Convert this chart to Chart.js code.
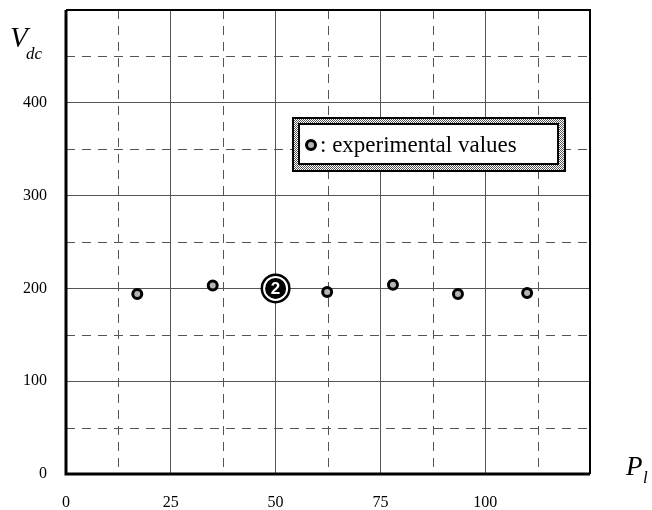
<!DOCTYPE html>
<html>
<head>
<meta charset="utf-8">
<script src="https://cdn.jsdelivr.net/npm/chart.js@4/dist/chart.umd.min.js"></script>
<style>
  html, body { margin: 0; padding: 0; background: #fff; }
  canvas { display: block; }
</style>
</head>
<body>
<canvas id="chart" width="652" height="510"></canvas>
<script>
// measured points (P_l, V_dc)
const plValues = [17, 35, 62.3, 78, 93.5, 110];
const vdcValues = [194, 203, 196, 204, 194, 195];

// numbered operating point
const markerX = [50];
const markerY = [200];
const markerText = ['2'];

const xTicks = [0, 25, 50, 75, 100];
const yTicks = [0, 100, 200, 300, 400];
const legendText = ': experimental values';

const SERIF = '"Liberation Serif", "DejaVu Serif", serif';

function drawPoint(ctx, x, y) {
    ctx.save();
    ctx.beginPath();
    ctx.arc(x, y, 4.5, 0, Math.PI * 2);
    ctx.fillStyle = '#b4b4b4';
    ctx.fill();
    ctx.lineWidth = 3;
    ctx.strokeStyle = '#000';
    ctx.stroke();
    ctx.restore();
}

// dashed half-step lines, taken from the scales
const minorGrid = {
    id: 'minorGrid',
    beforeDatasetsDraw(chart) {
        const {ctx, chartArea, scales} = chart;
        ctx.save();
        ctx.strokeStyle = '#555';
        ctx.lineWidth = 1;
        ctx.setLineDash([9, 7]);
        const xs = scales.x.ticks;
        for (let i = 0; i < xs.length - 1; i++) {
            const px = Math.round(scales.x.getPixelForValue((xs[i].value + xs[i + 1].value) / 2)) + 0.5;
            ctx.beginPath();
            ctx.moveTo(px, chartArea.top);
            ctx.lineTo(px, chartArea.bottom);
            ctx.stroke();
        }
        const ys = scales.y.ticks;
        for (let i = 0; i < ys.length - 1; i++) {
            const py = Math.round(scales.y.getPixelForValue((ys[i].value + ys[i + 1].value) / 2)) + 0.5;
            ctx.beginPath();
            ctx.moveTo(chartArea.left, py);
            ctx.lineTo(chartArea.right, py);
            ctx.stroke();
        }
        ctx.restore();
    }
};

const decorations = {
    id: 'decorations',
    afterDatasetsDraw(chart) {
        const {ctx, chartArea} = chart;

        // frame
        ctx.save();
        ctx.strokeStyle = '#000';
        ctx.lineWidth = 3;
        ctx.beginPath();
        ctx.moveTo(chartArea.left, chartArea.top);
        ctx.lineTo(chartArea.left, chartArea.bottom);
        ctx.lineTo(chartArea.right, chartArea.bottom);
        ctx.stroke();
        ctx.lineWidth = 2;
        ctx.beginPath();
        ctx.moveTo(chartArea.left, chartArea.top);
        ctx.lineTo(chartArea.right, chartArea.top);
        ctx.lineTo(chartArea.right, chartArea.bottom);
        ctx.stroke();
        ctx.restore();

        // numbered marker
        const meta = chart.getDatasetMeta(1);
        meta.data.forEach((pt, i) => {
            ctx.save();
            ctx.beginPath();
            ctx.arc(pt.x, pt.y, 11.5, 0, Math.PI * 2);
            ctx.strokeStyle = '#fff';
            ctx.lineWidth = 2;
            ctx.stroke();
            ctx.fillStyle = '#fff';
            ctx.font = 'bold 17px "Liberation Sans", Arial, sans-serif';
            ctx.textAlign = 'center';
            ctx.textBaseline = 'middle';
            ctx.fillText(markerText[i], pt.x, pt.y + 1);
            ctx.restore();
        });

        // legend box
        const bx = 292, by = 117, bw = 274, bh = 55;
        const pc = document.createElement('canvas');
        pc.width = 2; pc.height = 2;
        const p = pc.getContext('2d');
        p.fillStyle = '#fff'; p.fillRect(0, 0, 2, 2);
        p.fillStyle = '#555'; p.fillRect(0, 0, 1, 1); p.fillRect(1, 1, 1, 1);
        ctx.save();
        ctx.fillStyle = '#000';
        ctx.fillRect(bx, by, bw, bh);
        ctx.fillStyle = ctx.createPattern(pc, 'repeat');
        ctx.fillRect(bx + 2, by + 2, bw - 4, bh - 4);
        ctx.fillStyle = '#000';
        ctx.fillRect(bx + 6, by + 6, bw - 13, bh - 13);
        ctx.fillStyle = '#fff';
        ctx.fillRect(bx + 8, by + 8, bw - 17, bh - 17);
        ctx.restore();
        drawPoint(ctx, 311, 145);
        ctx.save();
        ctx.fillStyle = '#000';
        ctx.font = '23px ' + SERIF;
        ctx.textBaseline = 'alphabetic';
        ctx.fillText(legendText, 320, 152);
        ctx.restore();

        // axis titles
        ctx.save();
        ctx.fillStyle = '#000';
        ctx.font = 'italic 29px ' + SERIF;
        ctx.fillText('V', 10, 47);
        ctx.font = 'italic 17px ' + SERIF;
        ctx.fillText('dc', 26, 59);
        ctx.font = 'italic 27px ' + SERIF;
        ctx.fillText('P', 626, 475);
        ctx.font = 'italic 17px ' + SERIF;
        ctx.fillText('l', 643, 483);
        ctx.restore();
    }
};

new Chart(document.getElementById('chart'), {
    type: 'scatter',
    data: {
        datasets: [
            {
                label: 'experimental values',
                data: plValues.map((x, i) => ({x: x, y: vdcValues[i]})),
                pointStyle: 'circle',
                pointRadius: 4.5,
                pointBorderWidth: 3,
                pointBackgroundColor: '#b4b4b4',
                pointBorderColor: '#000',
                showLine: false
            },
            {
                label: 'operating point',
                data: markerX.map((x, i) => ({x: x, y: markerY[i]})),
                pointStyle: 'circle',
                pointRadius: 15,
                pointBorderWidth: 0,
                pointBackgroundColor: '#000',
                pointBorderColor: '#000',
                showLine: false
            }
        ]
    },
    options: {
        responsive: false,
        animation: false,
        devicePixelRatio: 1,
        layout: {autoPadding: false, padding: {top: 10, right: 62, left: 0, bottom: 0}},
        plugins: {
            legend: {display: false},
            tooltip: {enabled: false}
        },
        scales: {
            x: {
                type: 'linear',
                min: 0,
                max: 125,
                afterBuildTicks: (scale) => {
                    scale.ticks = xTicks.concat([125]).map(v => ({value: v}));
                },
                afterFit: (scale) => {
                    scale.height = 36;
                    scale.paddingLeft = 0;
                    scale.paddingRight = 0;
                },
                grid: {color: '#555', lineWidth: 1, drawTicks: false},
                border: {display: false},
                ticks: {
                    padding: 19,
                    color: '#000',
                    font: {family: SERIF, size: 16},
                    maxRotation: 0,
                    callback: (v) => xTicks.includes(v) ? String(v) : ''
                }
            },
            y: {
                type: 'linear',
                min: 0,
                max: 500,
                afterBuildTicks: (scale) => {
                    scale.ticks = yTicks.concat([500]).map(v => ({value: v}));
                },
                afterFit: (scale) => {
                    scale.width = 66;
                    scale.paddingTop = 0;
                    scale.paddingBottom = 0;
                },
                grid: {color: '#555', lineWidth: 1, drawTicks: false},
                border: {display: false},
                ticks: {
                    padding: 19,
                    color: '#000',
                    font: {family: SERIF, size: 16},
                    callback: (v) => yTicks.includes(v) ? String(v) : ''
                }
            }
        }
    },
    plugins: [minorGrid, decorations]
});
</script>
</body>
</html>
